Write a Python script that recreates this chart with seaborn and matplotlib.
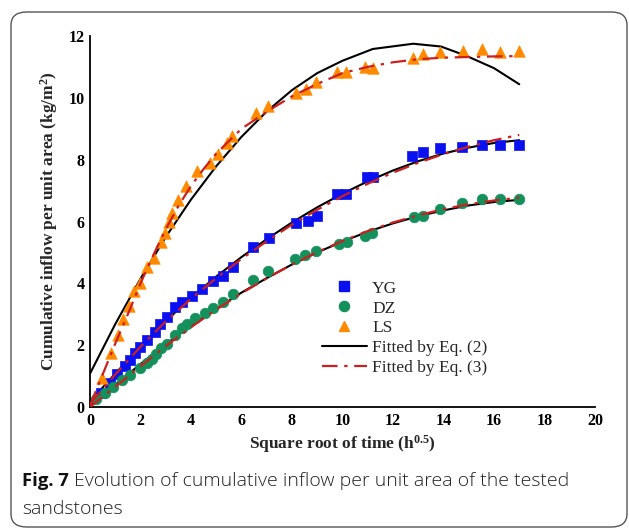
import numpy as np
import pandas as pd
import matplotlib
matplotlib.use("Agg")
import matplotlib.pyplot as plt
from matplotlib.patches import FancyBboxPatch
from matplotlib.lines import Line2D
import seaborn as sns

# ---------------- data ----------------
yg_x = [0.45, 0.81, 1.07, 1.38, 1.58, 1.77, 1.97, 2.24, 2.57, 2.77, 3.03, 3.36, 3.63, 4.02,
        4.42, 4.88, 5.28, 5.65, 6.47, 7.09, 8.16, 8.63, 8.98, 9.78, 10.15, 10.97, 11.19,
        12.75, 13.19, 13.85, 14.75, 15.53, 16.23, 17.0]
yg_y = [0.46, 0.77, 1.07, 1.34, 1.52, 1.76, 1.95, 2.17, 2.44, 2.69, 2.90, 3.23, 3.41, 3.59,
        3.81, 4.06, 4.24, 4.54, 5.16, 5.46, 5.94, 6.03, 6.19, 6.89, 6.90, 7.43, 7.43,
        8.12, 8.26, 8.39, 8.42, 8.47, 8.48, 8.47]

dz_x = [0.25, 0.58, 0.91, 1.25, 1.58, 1.97, 2.24, 2.44, 2.63, 2.83, 3.06, 3.36, 3.63, 3.83,
        4.15, 4.55, 4.88, 5.28, 5.67, 6.47, 7.06, 8.12, 8.52, 8.96, 9.88, 10.17, 10.90,
        11.17, 12.85, 13.19, 13.85, 14.75, 15.53, 16.23, 17.0]
dz_y = [0.25, 0.44, 0.66, 0.87, 1.04, 1.25, 1.41, 1.54, 1.71, 1.90, 2.04, 2.33, 2.55, 2.69,
        2.87, 3.03, 3.19, 3.39, 3.66, 4.11, 4.41, 4.78, 4.92, 5.03, 5.28, 5.35, 5.53,
        5.64, 6.13, 6.19, 6.40, 6.61, 6.74, 6.74, 6.73]

ls_x = [0.47, 0.85, 1.11, 1.31, 1.55, 1.73, 1.99, 2.24, 2.54, 2.83, 2.96, 3.13, 3.26, 3.49,
        3.80, 4.22, 4.77, 5.08, 5.41, 5.64, 6.57, 7.03, 8.14, 8.54, 8.95, 9.78, 10.14,
        10.90, 11.19, 12.79, 13.19, 13.85, 14.78, 15.53, 16.23, 17.0]
ls_y = [0.95, 1.74, 2.33, 2.85, 3.28, 3.75, 4.01, 4.52, 4.81, 5.33, 5.62, 6.00, 6.28, 6.70,
        7.15, 7.64, 7.90, 8.17, 8.53, 8.75, 9.50, 9.73, 10.16, 10.27, 10.50, 10.85, 10.82,
        10.99, 10.96, 11.28, 11.42, 11.47, 11.50, 11.58, 11.47, 11.53]

# fitted curves, Eq. (2) (solid black)
eq2_yg_x = [0, 1, 2, 3, 4, 5, 6, 7, 8, 9, 10, 11, 12, 13, 14, 15, 16, 17]
eq2_yg_y = [0.18, 1.08, 1.95, 2.78, 3.53, 4.22, 4.85, 5.43, 5.97, 6.46, 6.90, 7.30, 7.65,
            7.95, 8.20, 8.39, 8.54, 8.63]
eq2_dz_x = [0, 1, 2, 3, 4, 5, 6, 7, 8, 9, 10, 11, 12, 13, 14, 15, 16, 17]
eq2_dz_y = [0.02, 0.72, 1.39, 2.03, 2.63, 3.18, 3.70, 4.17, 4.61, 5.00, 5.35, 5.67, 5.94,
            6.17, 6.36, 6.52, 6.63, 6.70]
eq2_ls_x = [0, 1, 2, 3, 4, 5, 6, 7, 8, 9, 10, 11.2, 12.8, 13.9, 14.9, 16.0, 17.0]
eq2_ls_y = [1.08, 2.68, 4.15, 5.50, 6.71, 7.79, 8.74, 9.56, 10.25, 10.80, 11.20, 11.58,
            11.75, 11.66, 11.36, 10.96, 10.44]

# fitted curves, Eq. (3) (red dash-dot)
eq3_yg_x = [0, 1, 2, 3, 4, 5, 6, 7, 8, 9, 10, 11, 12, 13, 14, 15, 16, 17]
eq3_yg_y = [0.10, 1.05, 1.95, 2.77, 3.50, 4.17, 4.79, 5.36, 5.90, 6.38, 6.82, 7.22, 7.58,
            7.90, 8.18, 8.42, 8.63, 8.80]
eq3_dz_x = [0, 1, 2, 3, 4, 5, 6, 7, 8, 9, 10, 11, 12, 13, 14, 15, 16, 17]
eq3_dz_y = [0.00, 0.65, 1.32, 1.97, 2.58, 3.15, 3.68, 4.16, 4.61, 5.01, 5.37, 5.69, 5.97,
            6.20, 6.40, 6.56, 6.68, 6.77]
eq3_ls_x = [0, 0.5, 1, 1.5, 2, 2.5, 3, 3.5, 4, 4.5, 5, 5.5, 6, 7, 8, 9, 10, 11, 12, 13,
            14, 15, 16, 17]
eq3_ls_y = [0.05, 1.05, 2.05, 3.00, 4.00, 4.90, 5.75, 6.50, 7.15, 7.70, 8.20, 8.60, 9.00,
            9.55, 10.05, 10.45, 10.80, 11.00, 11.15, 11.25, 11.30, 11.32, 11.34, 11.35]

x_ticks = [0, 2, 4, 6, 8, 10, 12, 14, 16, 18, 20]
y_ticks = [0, 2, 4, 6, 8, 10, 12]

# ---------------- figure ----------------
sns.set_style("white")
plt.rcParams["font.family"] = ["Liberation Serif", "DejaVu Serif"]
plt.rcParams["mathtext.fontset"] = "custom"
plt.rcParams["mathtext.rm"] = "Liberation Serif"
plt.rcParams["mathtext.bf"] = "Liberation Serif:bold"
plt.rcParams["mathtext.it"] = "Liberation Serif:italic"

fig = plt.figure(figsize=(6.29, 5.30), dpi=100)
ax = fig.add_axes([90 / 629, 1 - 407 / 530, (595 - 90) / 629, (407 - 36) / 530])

# rounded frame around figure + caption
frame = FancyBboxPatch((11 / 629, 3 / 530), (627 - 11) / 629, (518 - 3) / 530,
                       boxstyle="round,pad=0,rounding_size=0.025",
                       transform=fig.transFigure, fill=False,
                       edgecolor="#555555", linewidth=1.0, clip_on=False)
fig.patches.append(frame)

c_yg, c_dz, c_ls = "#0a10f0", "#14905c", "#ff8a00"
c_red = "#cc1f1f"

for xs, ys in [(eq2_yg_x, eq2_yg_y), (eq2_dz_x, eq2_dz_y), (eq2_ls_x, eq2_ls_y)]:
    sns.lineplot(x=xs, y=ys, ax=ax, color="black", linewidth=1.5, sort=False,
                 estimator=None, zorder=2)
for xs, ys in [(eq3_yg_x, eq3_yg_y), (eq3_dz_x, eq3_dz_y), (eq3_ls_x, eq3_ls_y)]:
    sns.lineplot(x=xs, y=ys, ax=ax, color=c_red, linewidth=1.6, sort=False,
                 estimator=None, zorder=4)
for ln in ax.lines[3:6]:
    ln.set_dashes([7, 3, 1.5, 3])

sns.scatterplot(x=yg_x, y=yg_y, ax=ax, marker="s", s=48, color=c_yg, edgecolor=c_yg,
                linewidth=0.5, zorder=3)
sns.scatterplot(x=dz_x, y=dz_y, ax=ax, marker="o", s=58, color=c_dz, edgecolor=c_dz,
                linewidth=0.5, zorder=3)
sns.scatterplot(x=ls_x, y=ls_y, ax=ax, marker="^", s=68, color=c_ls, edgecolor=c_ls,
                linewidth=0.5, zorder=3)

ax.set_xlim(0, 20)
ax.set_ylim(0, 12)
ax.set_xticks(x_ticks)
ax.set_yticks(y_ticks)
for sp in ["top", "right"]:
    ax.spines[sp].set_visible(False)
for sp in ["left", "bottom"]:
    ax.spines[sp].set_color("black")
    ax.spines[sp].set_linewidth(1.3)
ax.tick_params(direction="in", length=7, width=1.3, colors="black", labelsize=11.5,
               pad=4)
for lab in ax.get_xticklabels() + ax.get_yticklabels():
    lab.set_fontweight("bold")

ax.set_xlabel("Square root of time (h$^{\\mathbf{0.5}}$)", fontsize=12.5,
              fontweight="bold", labelpad=3)
ax.set_ylabel("Cumulative inflow per unit area (kg/m$^{\\mathbf{2}}$)", fontsize=12.5,
              fontweight="bold", labelpad=6)

# legend
handles = [
    Line2D([], [], marker="s", color=c_yg, linestyle="none", markersize=6.8),
    Line2D([], [], marker="o", color=c_dz, linestyle="none", markersize=7.3),
    Line2D([], [], marker="^", color=c_ls, linestyle="none", markersize=7.8),
    Line2D([], [], color="black", linewidth=1.5),
    Line2D([], [], color=c_red, linewidth=1.6, dashes=[7, 3, 1.5, 3]),
]
labels = ["YG", "DZ", "LS", "Fitted by Eq. (2)", "Fitted by Eq. (3)"]
ax.legend(handles, labels, loc="upper left", bbox_to_anchor=(0.445, 0.36),
          frameon=False, fontsize=12.5, handlelength=2.6, labelspacing=0.22,
          handletextpad=0.3, borderaxespad=0)

# caption
cap_font = ["Open Sans", "DejaVu Sans"]
fig.text(22 / 629, 1 - 481 / 530, "Fig. 7", fontsize=13.3, fontweight="bold",
         family=cap_font, va="center", ha="left", color="#111111")
fig.text(74 / 629, 1 - 481 / 530,
         "Evolution of cumulative inflow per unit area of the tested",
         fontsize=14, family=cap_font, fontweight="light", va="center", ha="left",
         color="#222222")
fig.text(22 / 629, 1 - 509 / 530, "sandstones", fontsize=14, fontweight="light",
         family=cap_font, va="center", ha="left", color="#222222")

fig.savefig("out.png", dpi=100)
